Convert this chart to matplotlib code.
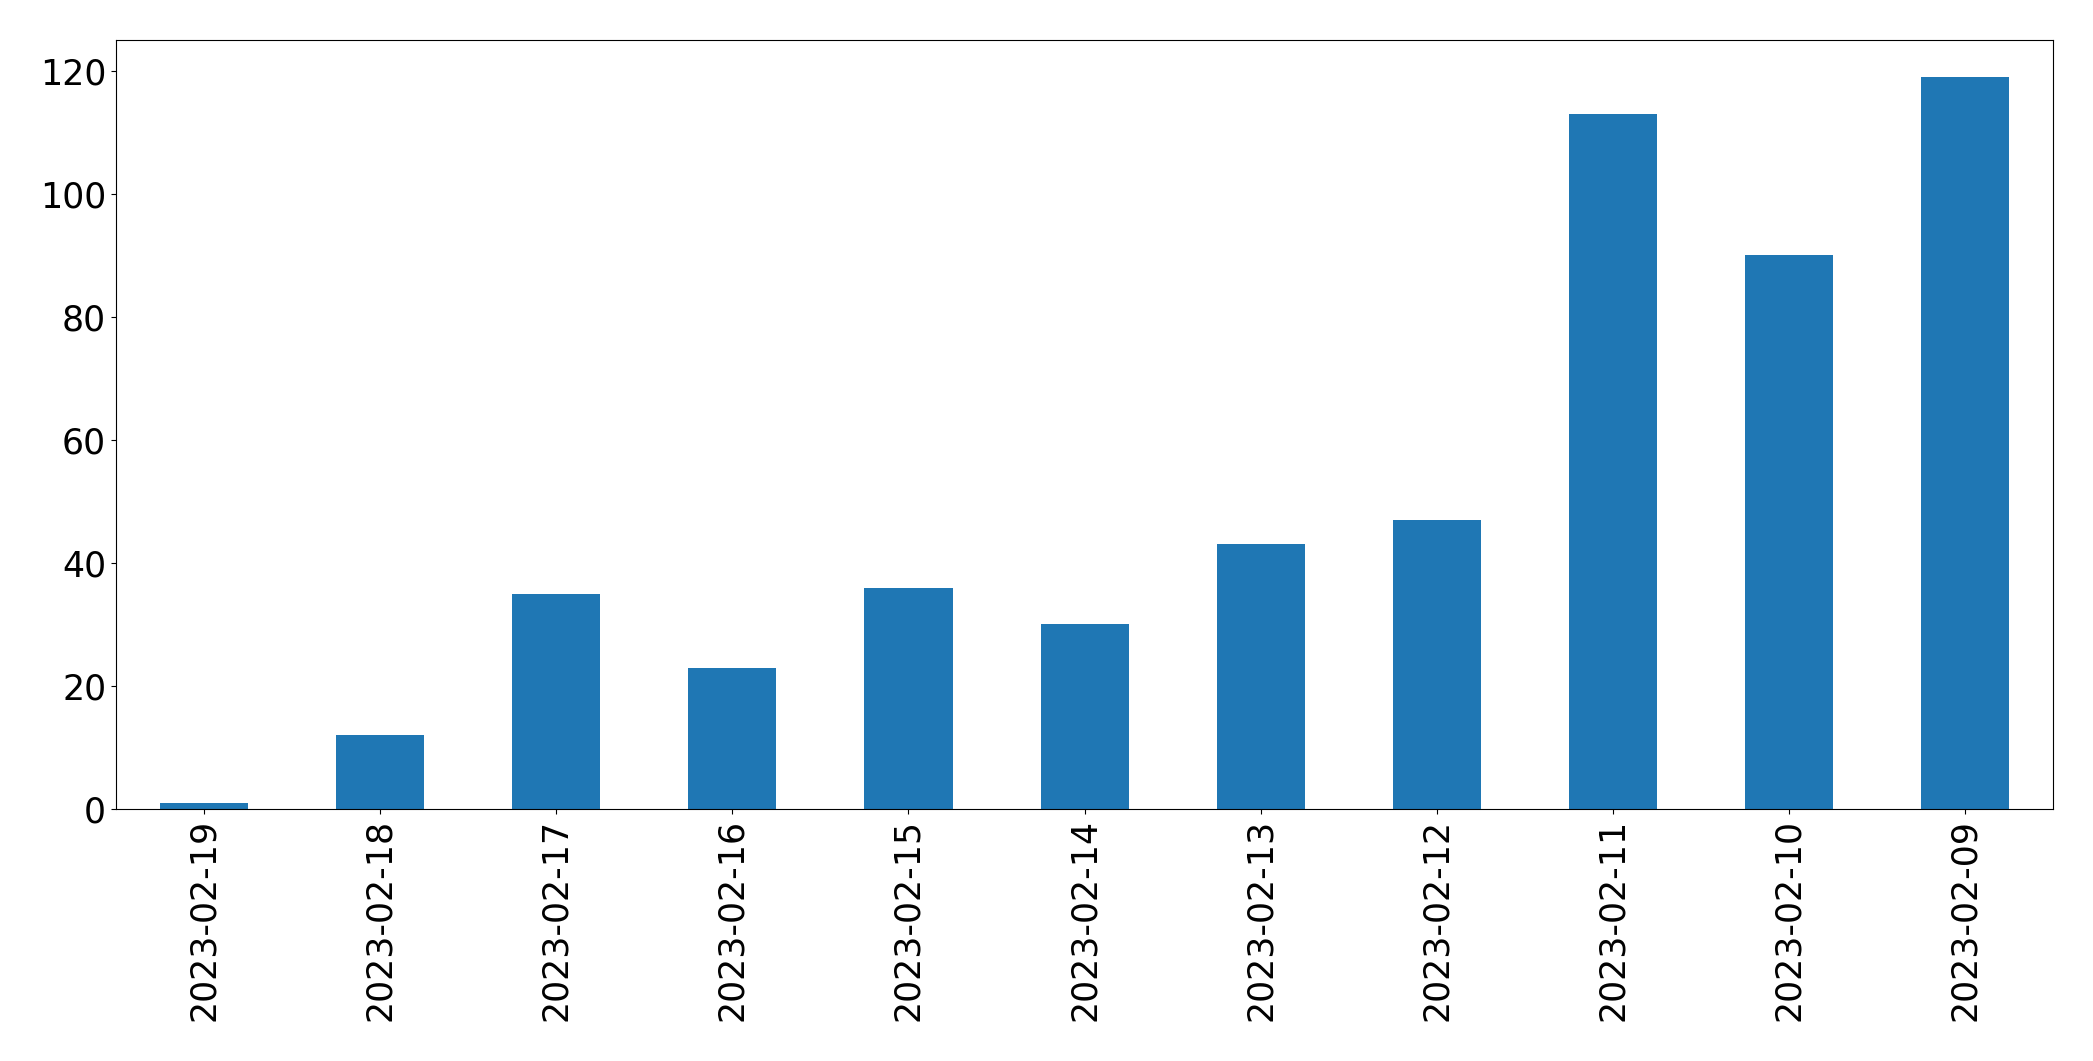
import pandas as pd
import matplotlib
matplotlib.use("Agg")
import matplotlib.pyplot as plt

dates = ["2023-02-19", "2023-02-18", "2023-02-17", "2023-02-16", "2023-02-15", "2023-02-14",
         "2023-02-13", "2023-02-12", "2023-02-11", "2023-02-10", "2023-02-09"]
counts = [1, 12, 35, 23, 36, 30, 43, 47, 113, 90, 119]

s = pd.Series(counts, index=dates)

fig, ax = plt.subplots(figsize=(20.93, 10.61), dpi=100)
s.plot(kind="bar", ax=ax, color="#1f77b4")
ax.tick_params(axis="both", labelsize=25)
fig.subplots_adjust(left=0.0554, right=0.981, top=0.962, bottom=0.2375)
fig.savefig("out.png", dpi=100)
